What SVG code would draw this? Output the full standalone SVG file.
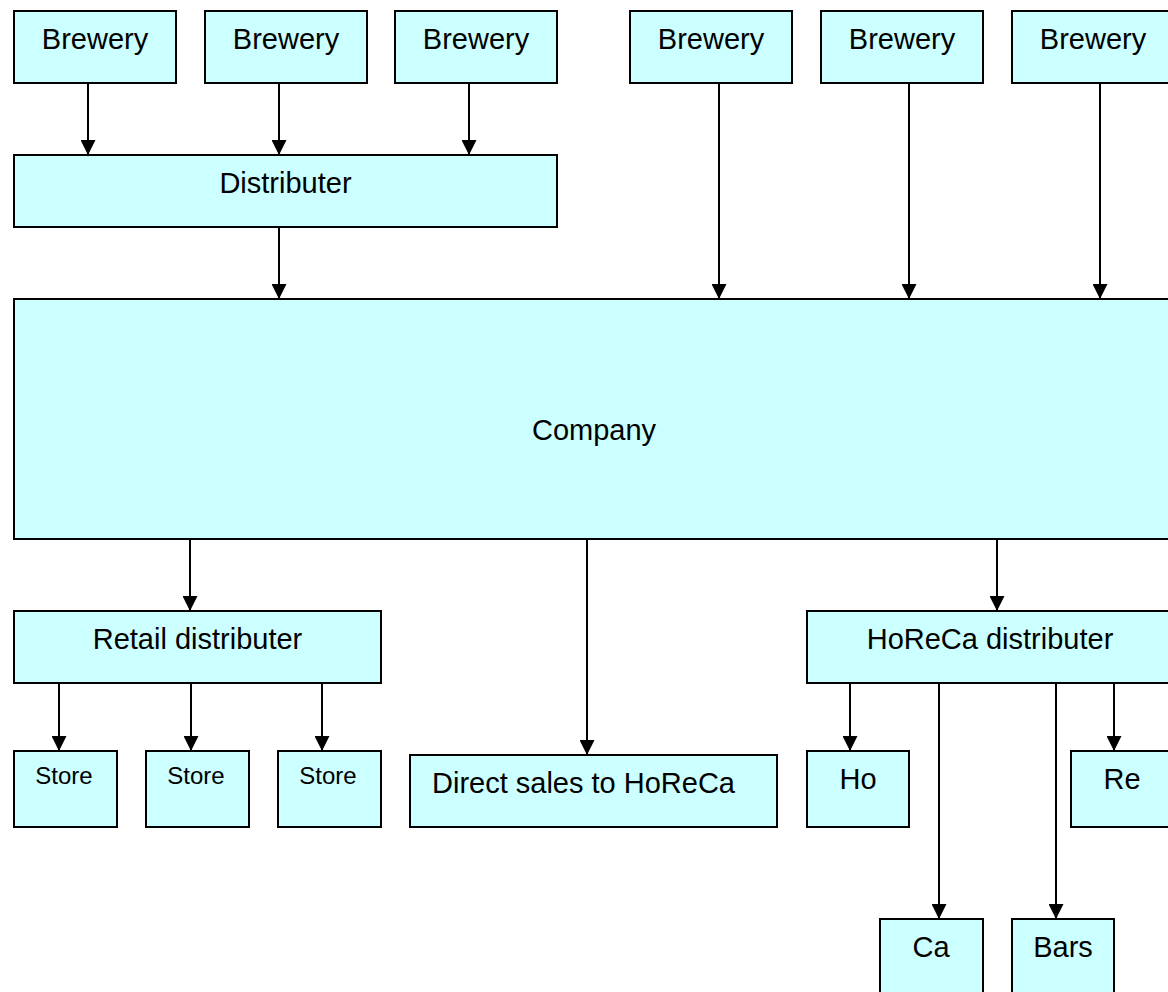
<svg xmlns="http://www.w3.org/2000/svg" width="1168" height="992" viewBox="0 0 1168 992">
  <defs>
    <marker id="arrow" markerUnits="userSpaceOnUse" markerWidth="15" markerHeight="15" refX="15" refY="7.5" orient="auto">
      <path d="M0,0 L15,7.5 L0,15 z" fill="#000"/>
    </marker>
    <style>
      .box { fill: #CCFFFF; stroke: #000; stroke-width: 2; }
      .lbl { font-family: "Liberation Sans", Arial, sans-serif; font-size: 29px; fill: #000; text-anchor: middle; }
      .sm { font-size: 24px; }
      .start { text-anchor: start; }
      .edge { stroke: #000; stroke-width: 2; fill: none; marker-end: url(#arrow); }
    </style>
  </defs>
  <rect width="1168" height="992" fill="#fff"/>

  <!-- suppliers -->
  <g id="brewery1"><rect class="box" x="14" y="11" width="162" height="72"/><text class="lbl" x="95" y="49">Brewery</text></g>
  <g id="brewery2"><rect class="box" x="205" y="11" width="162" height="72"/><text class="lbl" x="286" y="49">Brewery</text></g>
  <g id="brewery3"><rect class="box" x="395" y="11" width="162" height="72"/><text class="lbl" x="476" y="49">Brewery</text></g>
  <g id="brewery4"><rect class="box" x="630" y="11" width="162" height="72"/><text class="lbl" x="711" y="49">Brewery</text></g>
  <g id="brewery5"><rect class="box" x="821" y="11" width="162" height="72"/><text class="lbl" x="902" y="49">Brewery</text></g>
  <g id="brewery6"><rect class="box" x="1012" y="11" width="162" height="72"/><text class="lbl" x="1093" y="49">Brewery</text></g>

  <g id="distributer"><rect class="box" x="14" y="155" width="543" height="72"/><text class="lbl" x="285.5" y="193">Distributer</text></g>

  <g id="company"><rect class="box" x="14" y="299" width="1160" height="240"/><text class="lbl" x="594" y="440">Company</text></g>

  <!-- sales channels -->
  <g id="retail"><rect class="box" x="14" y="611" width="367" height="72"/><text class="lbl" x="197.5" y="649">Retail distributer</text></g>
  <g id="horeca"><rect class="box" x="807" y="611" width="367" height="72"/><text class="lbl" x="990" y="649">HoReCa distributer</text></g>

  <g id="store1"><rect class="box" x="14" y="751" width="103" height="76"/><text class="lbl sm" x="64" y="784">Store</text></g>
  <g id="store2"><rect class="box" x="146" y="751" width="103" height="76"/><text class="lbl sm" x="196" y="784">Store</text></g>
  <g id="store3"><rect class="box" x="278" y="751" width="103" height="76"/><text class="lbl sm" x="328" y="784">Store</text></g>

  <g id="direct"><rect class="box" x="410" y="755" width="367" height="72"/><text class="lbl start" x="432" y="793">Direct sales to HoReCa</text></g>

  <g id="ho"><rect class="box" x="807" y="751" width="102" height="76"/><text class="lbl" x="858" y="789">Ho</text></g>
  <g id="re"><rect class="box" x="1071" y="751" width="103" height="76"/><text class="lbl" x="1122" y="789">Re</text></g>
  <g id="ca"><rect class="box" x="880" y="919" width="103" height="80"/><text class="lbl" x="931" y="957">Ca</text></g>
  <g id="bars"><rect class="box" x="1012" y="919" width="102" height="80"/><text class="lbl" x="1063" y="957">Bars</text></g>

  <g id="connectors">
    <line class="edge" x1="88" y1="83" x2="88" y2="155"/>
    <line class="edge" x1="279" y1="83" x2="279" y2="155"/>
    <line class="edge" x1="469" y1="83" x2="469" y2="155"/>
    <line class="edge" x1="279" y1="227" x2="279" y2="299"/>
    <line class="edge" x1="719" y1="83" x2="719" y2="299"/>
    <line class="edge" x1="909" y1="83" x2="909" y2="299"/>
    <line class="edge" x1="1100" y1="83" x2="1100" y2="299"/>
    <line class="edge" x1="190" y1="539" x2="190" y2="611"/>
    <line class="edge" x1="587" y1="539" x2="587" y2="755"/>
    <line class="edge" x1="997" y1="539" x2="997" y2="611"/>
    <line class="edge" x1="59" y1="683" x2="59" y2="751"/>
    <line class="edge" x1="191" y1="683" x2="191" y2="751"/>
    <line class="edge" x1="322" y1="683" x2="322" y2="751"/>
    <line class="edge" x1="850" y1="683" x2="850" y2="751"/>
    <line class="edge" x1="939" y1="683" x2="939" y2="919"/>
    <line class="edge" x1="1056" y1="683" x2="1056" y2="919"/>
    <line class="edge" x1="1114" y1="683" x2="1114" y2="751"/>
  </g>
</svg>
